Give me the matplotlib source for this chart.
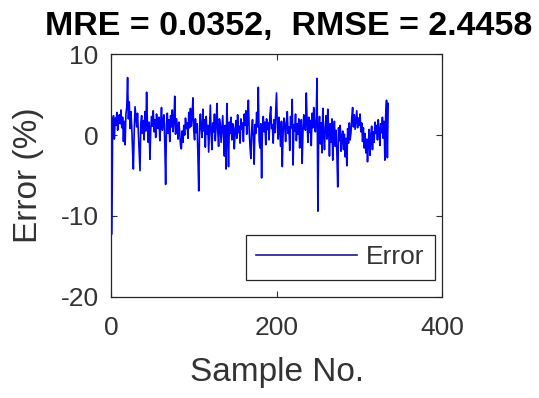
import matplotlib
matplotlib.use("Agg")
import matplotlib.pyplot as plt
import numpy as np

plt.rcParams['font.family'] = ['Liberation Sans', 'DejaVu Sans']
plt.rcParams['axes.unicode_minus'] = False

error_values = [
    -12.2, 1.8, 2.4, -0.5, 2.1, 1.2, 2.8, 0.6, 1.9, 2.5,
    1.4, 3.1, 0.9, 2.2, -0.8, 1.7, -1.2, 2.6, 3.4, 7.1,
    2.0, 4.1, 0.8, 2.9, 1.1, -1.8, -4.2, 0.4, 3.5, 2.2,
    1.0, 2.7, 0.3, -2.0, -4.4, 1.5, 2.4, 0.2, 1.8, -0.6,
    2.9, 0.5, 5.3, 1.2, -0.9, 1.6, -3.0, 0.7, 2.3, 1.1,
    3.0, 0.4, 1.9, -0.3, 2.6, 1.4, 0.8, 2.2, -0.7, 1.5,
    3.4, 0.6, 1.8, 2.5, -1.1, -6.1, 1.3, 2.7, 0.2, 1.9,
    -0.8, 2.4, 1.0, 3.1, 0.4, 1.7, 4.8, 0.1, 2.0, 1.2,
    -0.5, 1.6, 0.3, -1.3, -1.7, 0.5, -0.9, 1.2, 0.0, 2.1,
    0.8, 1.5, -0.4, 2.8, 0.9, 3.3, 1.1, 2.2, 4.6, 0.5,
    -0.6, 2.0, 0.3, 1.4, -2.4, -6.9, 1.0, 2.6, 0.7, -0.3,
    3.2, 0.5, 1.9, -1.5, 2.3, 0.1, 1.2, -2.1, 0.8, 3.7,
    0.2, -1.8, 1.5, 0.4, 2.6, -0.7, 1.1, 3.9, 0.6, -1.4,
    2.0, 1.3, -0.9, 0.8, 2.4, -0.3, -2.6, 1.2, -4.2, 3.9,
    0.5, -3.9, 1.6, 0.2, 2.2, -0.6, 1.4, 0.9, -1.7, 0.6,
    1.8, -0.4, 2.5, 0.3, 1.1, -1.0, 2.0, 0.7, 1.5, -0.8,
    2.6, 1.2, 3.0, 0.1, 1.7, 4.3, 0.6, -1.5, -2.9, 0.8,
    1.9, -0.4, -3.6, 1.3, 0.2, 2.8, 1.0, 5.9, -0.7, -1.6,
    1.4, -5.3, 0.9, 2.3, 0.4, 1.6, -1.2, 2.0, 0.7, 1.5,
    -0.6, 2.4, 3.5, 0.8, 1.3, -1.0, 1.9, 0.3, 2.7, 5.2,
    1.1, -0.5, 2.2, 0.6, -1.4, 1.7, -3.9, 0.4, 2.1, 1.2,
    -0.8, 1.6, 2.9, 0.2, 1.0, -1.9, 2.3, 0.9, 4.4, -3.7,
    1.3, 0.5, 2.6, -0.7, 1.4, 0.1, 2.0, -1.6, 0.8, 1.9,
    -3.5, 0.4, 2.5, 1.1, 0.6, 5.2, 1.5, -0.9, 2.2, 0.3,
    1.8, -1.3, 2.7, 0.9, 3.4, 1.2, 0.4, 2.1, 7.0, -9.4,
    0.6, 2.3, -1.1, 1.5, -2.2, 3.3, 0.2, -1.8, 1.0, 2.4,
    -0.5, 3.2, 0.8, -2.6, 1.4, -0.9, 2.0, -3.1, 0.3, 1.7,
    -1.4, 0.6, -2.3, -6.4, 0.9, -0.7, 1.2, -2.0, -0.3, 0.5,
    -1.8, 0.1, -2.7, -0.4, -3.8, 0.8, -1.0, 1.5, -0.6, 0.3,
    2.2, 3.4, 1.0, 2.5, 0.7, 1.8, 3.0, 0.9, 2.1, 1.2,
    2.6, 0.4, 1.5, -0.8, 0.9, -1.6, 0.2, -2.2, -0.5, -3.3,
    -1.0, 0.7, -2.5, -0.2, 1.1, -1.8, 0.4, -0.9, 1.6, 0.2,
    1.2, -0.6, 1.9, 0.5, -1.3, 1.4, 0.3, 2.2, -0.4, 1.7,
    -3.1, 2.5, 4.3, -2.8, 3.9,
]
sample_no = list(range(1, len(error_values) + 1))

x_ticks = [0, 200, 400]
y_ticks = [-20, -10, 0, 10]
title_text = "MRE = 0.0352,  RMSE = 2.4458"
x_label = "Sample No."
y_label = "Error (%)"
legend_label = "Error"

txt = '#333333'
fig = plt.figure(figsize=(5.39, 3.98), dpi=100)
ax = fig.add_axes([0.206, 0.254, 0.614, 0.610])
ax.plot(sample_no, error_values, color='blue', lw=1.2, label=legend_label)
ax.set_xlim(0, 400)
ax.set_ylim(-20, 10)
ax.set_xticks(x_ticks)
ax.set_yticks(y_ticks)
ax.tick_params(direction='in', length=4, width=0.8, top=True, right=True,
               labelsize=19, colors=txt)
ax.tick_params(axis='x', pad=14)
ax.tick_params(axis='y', pad=9)
for sp in ax.spines.values():
    sp.set_color('#262626')
    sp.set_linewidth(0.9)
ax.set_xlabel(x_label, fontsize=24, color=txt, labelpad=12)
ax.set_ylabel(y_label, fontsize=24, color=txt, labelpad=12)
fig.text(0.536, 0.912, title_text, ha='center', va='baseline',
         fontsize=24.5, fontweight='bold', color='black')
leg = ax.legend(loc='lower right', bbox_to_anchor=(0.979, 0.07), borderaxespad=0,
                fontsize=19, fancybox=False, framealpha=1, edgecolor='#262626',
                handlelength=3.8, borderpad=0.4, handletextpad=0.35)
leg.get_frame().set_linewidth(0.9)
for t in leg.get_texts():
    t.set_color(txt)
for h in leg.get_lines():
    h.set_color('#1a1a8c')
fig.savefig('out.png', dpi=100)
